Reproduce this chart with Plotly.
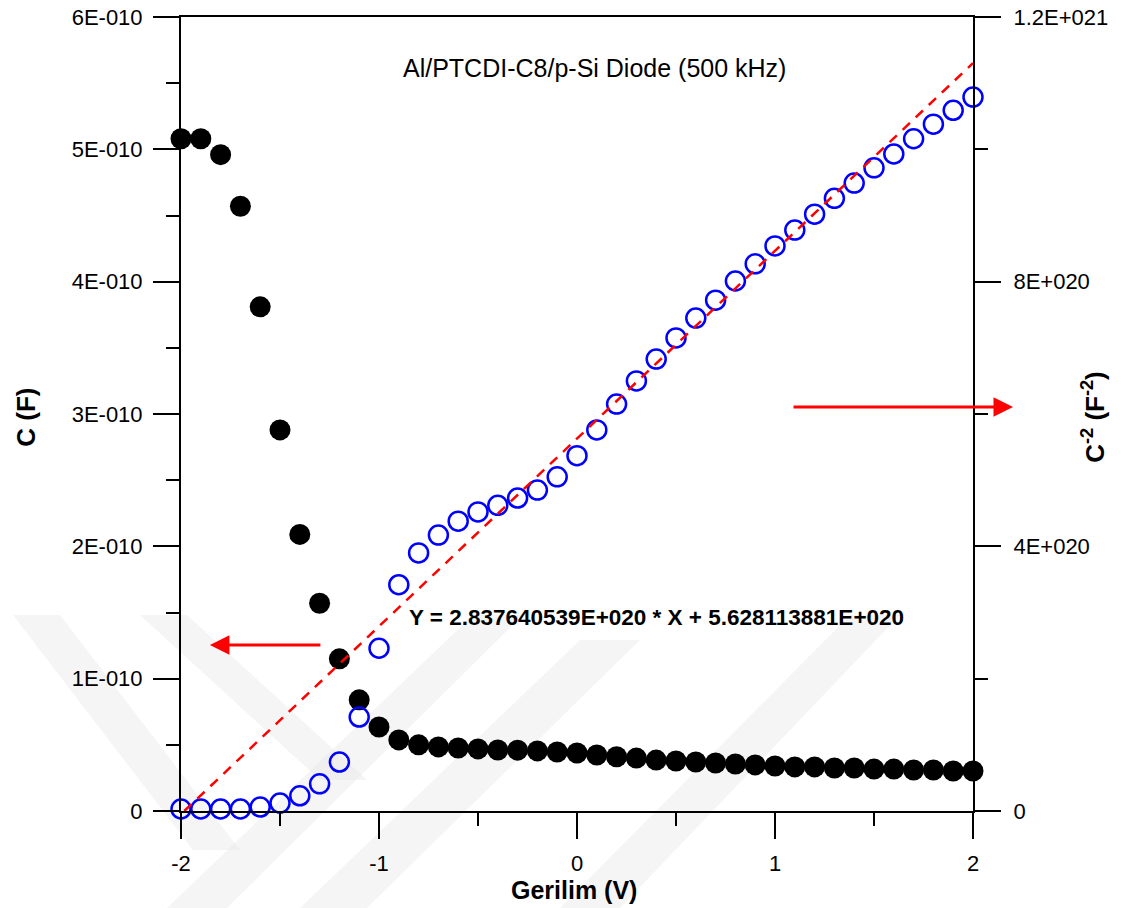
import plotly.graph_objects as go

# ---------------- data ----------------
voltage = [-2.0, -1.9, -1.8, -1.7, -1.6, -1.5, -1.4, -1.3, -1.2, -1.1, -1.0,
           -0.9, -0.8, -0.7, -0.6, -0.5, -0.4, -0.3, -0.2, -0.1, 0.0,
           0.1, 0.2, 0.3, 0.4, 0.5, 0.6, 0.7, 0.8, 0.9, 1.0,
           1.1, 1.2, 1.3, 1.4, 1.5, 1.6, 1.7, 1.8, 1.9, 2.0]

capacitance = [5.08e-10, 5.08e-10, 4.96e-10, 4.57e-10, 3.81e-10, 2.88e-10, 2.09e-10, 1.57e-10, 1.15e-10, 0.84e-10, 0.635e-10,
               0.537e-10, 0.50e-10, 0.484e-10, 0.476e-10, 0.469e-10, 0.461e-10, 0.46e-10, 0.454e-10, 0.446e-10, 0.438e-10,
               0.423e-10, 0.41e-10, 0.40e-10, 0.385e-10, 0.378e-10, 0.37e-10, 0.363e-10, 0.355e-10, 0.348e-10, 0.34e-10,
               0.333e-10, 0.333e-10, 0.325e-10, 0.325e-10, 0.317e-10, 0.317e-10, 0.31e-10, 0.31e-10, 0.302e-10, 0.302e-10]

inv_c2 = [0.03e20, 0.03e20, 0.03e20, 0.03e20, 0.06e20, 0.12e20, 0.23e20, 0.41e20, 0.74e20, 1.42e20, 2.46e20,
          3.42e20, 3.90e20, 4.17e20, 4.38e20, 4.52e20, 4.62e20, 4.73e20, 4.85e20, 5.05e20, 5.37e20,
          5.76e20, 6.15e20, 6.50e20, 6.83e20, 7.15e20, 7.45e20, 7.72e20, 8.01e20, 8.27e20, 8.54e20,
          8.78e20, 9.02e20, 9.26e20, 9.49e20, 9.72e20, 9.93e20, 10.16e20, 10.38e20, 10.59e20, 10.79e20]

fit_slope = 2.837640539e20
fit_intercept = 5.628113881e20

x_ticks = [-2, -1, 0, 1, 2]
x_ticktext = ["-2", "-1", "0", "1", "2"]
y_ticks = [0, 1e-10, 2e-10, 3e-10, 4e-10, 5e-10, 6e-10]
y_ticktext = ["0", "1E-010", "2E-010", "3E-010", "4E-010", "5E-010", "6E-010"]
y2_ticks = [0, 4e20, 8e20, 1.2e21]
y2_ticktext = ["0", "4E+020", "8E+020", "1.2E+021"]

# fit line from its zero crossing up to the end of the sweep
fit_x = [-fit_intercept / fit_slope, voltage[-1]]
fit_y = [fit_slope * x + fit_intercept for x in fit_x]

FONT = "Liberation Sans, Arial, sans-serif"

fig = go.Figure()

fig.add_trace(go.Scatter(
    x=voltage, y=capacitance, mode="markers", yaxis="y",
    marker=dict(symbol="circle", size=21, color="black", line=dict(width=0)),
    cliponaxis=False, showlegend=False))

fig.add_trace(go.Scatter(
    x=voltage, y=inv_c2, mode="markers", yaxis="y2",
    marker=dict(symbol="circle-open", size=19, color="#0000ff", line=dict(width=2.5, color="#0000ff")),
    cliponaxis=False, showlegend=False))

fig.add_trace(go.Scatter(
    x=fit_x, y=fit_y, mode="lines", yaxis="y2",
    line=dict(color="#ff0000", width=2.5, dash="10px,8px"),
    cliponaxis=False, showlegend=False))

axis_common = dict(showline=True, linecolor="black", linewidth=2, ticks="outside",
                   ticklen=26, tickwidth=2, tickcolor="black", showgrid=False, zeroline=False,
                   automargin=False,
                   tickfont=dict(family=FONT, size=22, color="black"))

fig.update_layout(
    width=1124, height=908,
    margin=dict(l=181, r=151, t=17, b=97),
    paper_bgcolor="white", plot_bgcolor="rgba(0,0,0,0)",
    xaxis=dict(range=[-2, 2], tickvals=x_ticks, ticktext=x_ticktext, mirror=True,
               minor=dict(dtick=0.5, ticklen=13, tickwidth=2, tickcolor="black", ticks="outside"),
               ticklabelstandoff=6, **axis_common),
    yaxis=dict(range=[0, 6e-10], tickvals=y_ticks, ticktext=y_ticktext,
               minor=dict(dtick=0.5e-10, ticklen=13, tickwidth=2, tickcolor="black", ticks="outside"),
               ticklabelstandoff=6, **axis_common),
    yaxis2=dict(range=[0, 1.2e21], tickvals=y2_ticks, ticktext=y2_ticktext, overlaying="y", side="right",
                minor=dict(dtick=2e20, ticklen=13, tickwidth=2, tickcolor="black", ticks="outside"),
                ticklabelstandoff=8, **axis_common),
)

# faint diagonal watermark bands in the background (paper coordinates)
def P(px, py):
    return (px - 181) / 792, (811 - py) / 794

bands = [
    [(13, 615), (60, 615), (240, 850), (193, 850)],
    [(140, 615), (187, 615), (367, 780), (320, 780)],
    [(167, 908), (227, 908), (523, 615), (473, 615)],
    [(300, 908), (367, 908), (640, 640), (580, 640)],
    [(560, 908), (620, 908), (900, 615), (850, 615)],
]
for b in bands:
    pts = [P(*p) for p in b]
    path = "M " + " L ".join(f"{x:.4f},{y:.4f}" for x, y in pts) + " Z"
    fig.add_shape(type="path", path=path, xref="paper", yref="paper",
                  fillcolor="rgba(230,230,230,0.4)", line=dict(width=0), layer="below")

ann_font = dict(family=FONT, color="black")
centered = dict(xref="paper", yref="paper", xanchor="center", yanchor="middle", showarrow=False)
fig.add_annotation(text="Al/PTCDI-C8/p-Si Diode (500 kHz)", x=0.522, y=0.936,
                   font=dict(size=25, **ann_font), **centered)
fig.add_annotation(text="<b>Y = 2.837640539E+020 * X + 5.628113881E+020</b>", x=0.6, y=0.244,
                   font=dict(size=22.5, **ann_font), **centered)
fig.add_annotation(text="<b>Gerilim (V)</b>", x=0.496, y=-0.1,
                   font=dict(size=25, **ann_font), **centered)
fig.add_annotation(text="<b>C (F)</b>", textangle=-90, x=-0.195, y=0.496,
                   font=dict(size=26, **ann_font), **centered)
fig.add_annotation(text="<b>C<sup>-2</sup> (F<sup>-2</sup>)</b>", textangle=-90, x=1.152, y=0.497,
                   font=dict(size=26, **ann_font), **centered)

# arrows pointing to the respective axes
fig.add_annotation(x=-1.854, y=1.255e-10, xref="x", yref="y", ax=112, ay=0, text="",
                   showarrow=True, arrowhead=2, arrowsize=1.3, arrowwidth=3, arrowcolor="#ff0000")
fig.add_annotation(x=(1013 - 181) / 792, y=(811 - 407) / 794, xref="paper", yref="paper", ax=-221, ay=0, text="",
                   showarrow=True, arrowhead=2, arrowsize=1.3, arrowwidth=3, arrowcolor="#ff0000")

fig.write_html("out.html")
